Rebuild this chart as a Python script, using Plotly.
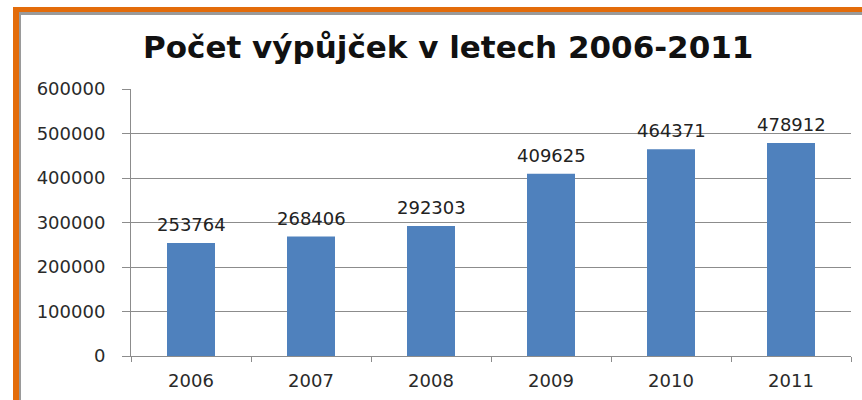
import plotly.graph_objects as go

years = ["2006", "2007", "2008", "2009", "2010", "2011"]
loans = [253764, 268406, 292303, 409625, 464371, 478912]
y_ticks = [0, 100000, 200000, 300000, 400000, 500000, 600000]
title_text = "Počet výpůjček v letech 2006-2011"

W, H = 862, 400
L, R, T, B = 131, 11, 89, 44
pw, ph = W - L - R, H - T - B

def px(x):
    return (x - L) / pw

def py(y):
    return (H - B - y) / ph

fig = go.Figure()
fig.add_trace(go.Bar(x=years, y=loans, marker=dict(color="#4F81BD", line=dict(width=0)),
                     hoverinfo="x+y"))

for i, v in enumerate(loans):
    fig.add_annotation(x=i, y=v, text=str(v), showarrow=False, yanchor="bottom",
                       yshift=6, font=dict(family="DejaVu Sans", size=18, color="#222222"))

shapes = [
    dict(type="rect", xref="paper", yref="paper", x0=px(13), x1=px(880), y0=py(7), y1=py(420),
         fillcolor="#E36C0A", line=dict(width=0), layer="below"),
    dict(type="rect", xref="paper", yref="paper", x0=px(19), x1=px(880), y0=py(12), y1=py(420),
         fillcolor="#9A9A9A", line=dict(width=0), layer="below"),
    dict(type="rect", xref="paper", yref="paper", x0=px(21), x1=px(880), y0=py(15), y1=py(420),
         fillcolor="white", line=dict(width=0), layer="below"),
]

fig.update_layout(
    width=W, height=H,
    margin=dict(l=L, r=R, t=T, b=B, pad=0, autoexpand=False),
    paper_bgcolor="white", plot_bgcolor="rgba(0,0,0,0)",
    shapes=shapes,
    showlegend=False,
    bargap=0.6,
    title=dict(text=title_text, x=0.52, xanchor="center", y=1 - 47 / H, yanchor="middle",
               font=dict(family="DejaVu Sans", size=31, color="#111111", weight="bold")),
    xaxis=dict(type="category", showline=True, linecolor="#8C8C8C", linewidth=1, ticks="outside",
               tickson="boundaries", ticklen=5, tickcolor="#8C8C8C", showgrid=False,
               automargin=False, tickangle=0, range=[-0.5, 5.5], ticklabelstandoff=8,
               tickfont=dict(family="DejaVu Sans", size=18, color="#2A2A2A")),
    yaxis=dict(range=[0, 600000], tickvals=y_ticks, ticktext=[str(v) for v in y_ticks],
               showline=True, linecolor="#8C8C8C", linewidth=1, ticks="outside", ticklen=8,
               tickcolor="#8C8C8C", showgrid=True, gridcolor="#8C8C8C", gridwidth=1,
               zeroline=False, ticklabelstandoff=13, automargin=False,
               tickfont=dict(family="DejaVu Sans", size=18, color="#2A2A2A")),
)

fig.write_html("out.html", config={"displayModeBar": False},
               post_script="document.body.style.margin='0px';")
